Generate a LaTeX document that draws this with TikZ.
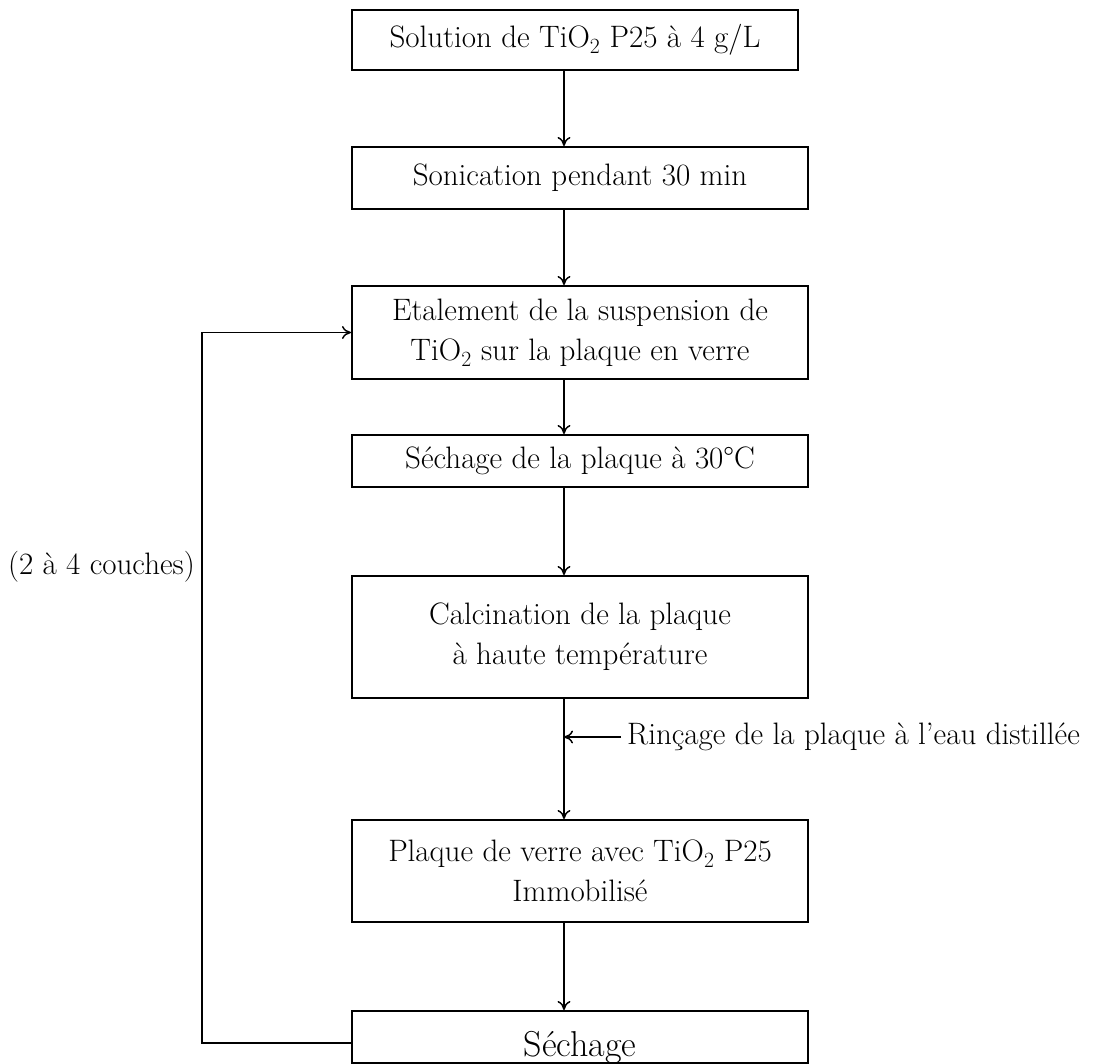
\documentclass[tikz,border=0pt]{standalone}
\usepackage{fontspec}
\usepackage{tikz}
\usetikzlibrary{arrows.meta}
\tikzset{
    step-box/.style = {draw=black, line width=2pt, rectangle, anchor=north west, minimum width=456pt, inner sep=4pt, align=center},
    flow-arrow/.style = {-{To[length=9pt,width=13pt]}, line width=1.5pt},
}

\begin{document}
\begin{tikzpicture}[x=1pt, y=-1pt, font=\fontsize{31}{40}\selectfont]
\useasboundingbox (0,0) rectangle (1099,1064);
\coordinate (axe) at (564,0);
\node [step-box, minimum width=446pt, minimum height=60pt] (solution) at (351,9) {Solution de TiO\textsubscript{2} P25 à 4 g/L};
\node [step-box, minimum height=62pt] (sonication) at (351,146) {Sonication pendant 30 min};
\node [step-box, minimum height=93pt] (etalement) at (351,285) {Etalement de la suspension de\\TiO\textsubscript{2} sur la plaque en verre};
\node [step-box, minimum height=52pt] (sechage-plaque) at (351,434) {Séchage de la plaque à 30°C};
\node [step-box, minimum height=122pt] (calcination) at (351,575) {Calcination de la plaque\\à haute température};
\node [step-box, minimum height=102pt] (plaque) at (351,819) {Plaque de verre avec TiO\textsubscript{2} P25\\Immobilisé};
\node [step-box, minimum height=52pt, inner ysep=0pt, text height=44pt, text depth=6pt, font=\fontsize{36}{40}\selectfont] (sechage) at (351,1010) {Séchage};
\node [anchor=west, inner sep=6pt] (rincage) at (621,737) {Rinçage de la plaque à l'eau distillée};
\node [anchor=east, inner sep=4pt] (couches) at (199,567) {(2 à 4 couches)};

\draw [flow-arrow] (solution.south -| axe) -- (sonication.north -| axe);
\draw [flow-arrow] (sonication.south -| axe) -- (etalement.north -| axe);
\draw [flow-arrow] (etalement.south -| axe) -- (sechage-plaque.north -| axe);
\draw [flow-arrow] (sechage-plaque.south -| axe) -- (calcination.north -| axe);
\draw [flow-arrow] (calcination.south -| axe) -- (plaque.north -| axe);
\draw [flow-arrow] (rincage.west) -- (rincage.west -| axe);
\draw [flow-arrow] (plaque.south -| axe) -- (sechage.north -| axe);
\draw [flow-arrow] ([yshift=-6pt]sechage.west) -- ++(-149,0) |- (etalement.west);
\end{tikzpicture}
\end{document}
